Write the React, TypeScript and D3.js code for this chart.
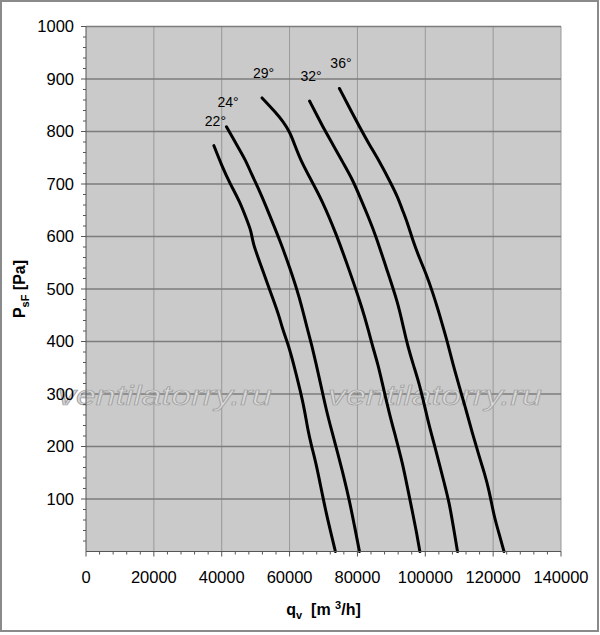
import * as d3 from 'd3';
import { type FC } from 'react';

// blade angle labels, one per curve
const angles = ['22°', '24°', '29°', '32°', '36°'];

// [q_v m3/h, P_sF Pa]
const curve22: [number, number][] = [
  [37700, 773], [40000, 735], [42500, 700], [45300, 667], [47500, 630],
  [48700, 610], [49200, 587], [51000, 555], [53100, 517], [55000, 483],
  [57000, 447], [58000, 422], [60000, 387], [61900, 339], [63200, 305],
  [64400, 270], [65400, 231], [66500, 200], [67800, 168], [69300, 120],
  [70800, 73], [72200, 35], [73500, 0],
];
const curve24: [number, number][] = [
  [41400, 809], [44200, 777], [47000, 746], [48700, 720], [51000, 689],
  [53100, 657], [55100, 625], [57100, 593], [60000, 542], [62900, 485],
  [65300, 422], [66400, 397], [67800, 358], [69300, 315], [70800, 270],
  [72500, 228], [74200, 187], [76000, 142], [77600, 98], [79100, 50],
  [80600, 0],
];
const curve29: [number, number][] = [
  [51900, 864], [56100, 835], [58100, 819], [60000, 800], [61500, 775],
  [63200, 746], [66300, 708], [69500, 670], [73700, 606], [77600, 536],
  [81600, 460], [83200, 422], [84500, 390], [86000, 358], [87700, 310],
  [89400, 263], [91400, 215], [93300, 168], [94800, 120], [96300, 73],
  [97400, 37], [98400, 0],
];
const curve32: [number, number][] = [
  [65900, 858], [68000, 832], [70300, 803], [72800, 775], [75700, 741],
  [78600, 708], [80700, 676], [83300, 636], [85500, 600], [88400, 542],
  [92000, 473], [93700, 422], [94900, 390], [96500, 355], [98200, 320],
  [99700, 280], [101200, 238], [102700, 203], [104100, 168], [105600, 130],
  [107100, 92], [108300, 46], [109500, 0],
];
const curve36: [number, number][] = [
  [74700, 882], [77600, 846], [80600, 809], [83500, 775], [86500, 743],
  [89900, 701], [91800, 676], [93300, 650], [94800, 625], [96300, 593],
  [98200, 560], [100200, 530], [102100, 495], [103800, 460], [105500, 422],
  [106600, 397], [108100, 358], [110000, 315], [112000, 270], [113900, 225],
  [115900, 181], [117400, 150], [118800, 117], [120300, 66], [121800, 33],
  [123200, 0],
];
const curves = [curve22, curve24, curve29, curve32, curve36];

const xTicks = [0, 20000, 40000, 60000, 80000, 100000, 120000, 140000];
const yTicks = [100, 200, 300, 400, 500, 600, 700, 800, 900, 1000];

const width = 600;
const height = 635;
const marginLeft = 86;
const marginRight = 39;
const marginTop = 26.5;
const marginBottom = 83.5;
const font = "Arial, 'Liberation Sans', sans-serif";

const App: FC = () => {
  const x = d3.scaleLinear([0, 140000], [marginLeft, width - marginRight]);
  const y = d3.scaleLinear([0, 1000], [height - marginBottom, marginTop]);
  const line = d3
    .line<[number, number]>((d) => x(d[0]), (d) => y(d[1]))
    .curve(d3.curveBasis);

  const xMinor = d3.range(0, 140001, 4000).filter((v) => v % 20000 !== 0);
  const yMinor = d3.range(0, 1001, 20).filter((v) => v % 100 !== 0);
  const [x0, x1] = x.range();
  const [y0, y1] = y.range();

  return (
    <svg
      width={width}
      height={height}
      viewBox={`0 0 ${width} ${height}`}
      style={{ position: 'absolute', left: 0, top: 0 }}
      fontFamily={font}
    >
      <rect width={width} height={height} fill='#fff' />
      <rect x={1} y={1} width={597} height={630} fill='none' stroke='#8a8a8a' strokeWidth={2} />
      <rect x={x0} y={y1} width={x1 - x0} height={y0 - y1} fill='#cacaca' />

      <g stroke='#999' strokeWidth={1}>
        {xTicks.slice(1).map((v) => (
          <line key={v} x1={x(v)} x2={x(v)} y1={y0} y2={y1} />
        ))}
      </g>
      <g stroke='#7c7c7c' strokeWidth={1.3}>
        {yTicks.map((v) => (
          <line key={v} x1={x0} x2={x1} y1={y(v)} y2={y(v)} />
        ))}
      </g>

      <g fontSize={28} fontStyle='italic' fill='#d8d8d8' stroke='#9c9c9c' strokeWidth={0.7}>
        <text x={58} y={405} textLength={214} lengthAdjust='spacingAndGlyphs'>ventilatorry.ru</text>
        <text x={328} y={405} textLength={214} lengthAdjust='spacingAndGlyphs'>ventilatorry.ru</text>
      </g>

      <g fill='none' stroke='#000' strokeWidth={3} strokeLinejoin='round' strokeLinecap='round'>
        {curves.map((c, i) => (
          <path key={i} d={line(c) ?? undefined} />
        ))}
      </g>
      <g fontSize={14} textAnchor='middle' fill='#000'>
        {curves.map((c, i) => (
          <text key={i} x={x(c[0][0]) + 1.5} y={y(c[0][1]) - 20}>{angles[i]}</text>
        ))}
      </g>

      <g stroke='#555' strokeWidth={1}>
        <line x1={x0} x2={x0} y1={y0} y2={y1} />
        <line x1={x0} x2={x1} y1={y0} y2={y0} />
        {yTicks.map((v) => (
          <line key={v} x1={x0 - 5} x2={x0} y1={y(v)} y2={y(v)} />
        ))}
        {yMinor.map((v) => (
          <line key={v} x1={x0 - 3} x2={x0} y1={y(v)} y2={y(v)} />
        ))}
        {xTicks.map((v) => (
          <line key={v} x1={x(v)} x2={x(v)} y1={y0} y2={y0 + 5} />
        ))}
        {xMinor.map((v) => (
          <line key={v} x1={x(v)} x2={x(v)} y1={y0} y2={y0 + 3} />
        ))}
      </g>

      <g fontSize={16.5} fill='#000'>
        {yTicks.map((v) => (
          <text key={v} x={x0 - 12} y={y(v)} dy='0.35em' textAnchor='end'>{v}</text>
        ))}
        {xTicks.map((v) => (
          <text key={v} x={x(v)} y={583} textAnchor='middle'>{v}</text>
        ))}
      </g>

      <text
        transform={`translate(25, 289) rotate(-90)`}
        textAnchor='middle'
        fontSize={16}
        fontWeight='bold'
      >
        P<tspan fontSize={11} dy={4}>sF</tspan>
        <tspan dy={-4}> [Pa]</tspan>
      </text>
      <text x={(x0 + x1) / 2} y={615} textAnchor='middle' fontSize={16} fontWeight='bold' xmlSpace='preserve'>
        q<tspan fontSize={11} dy={4}>v</tspan>
        <tspan dy={-4}>  [m </tspan>
        <tspan fontSize={11} dy={-6}>3</tspan>
        <tspan dy={6}>/h]</tspan>
      </text>
    </svg>
  );
};

export default App;
